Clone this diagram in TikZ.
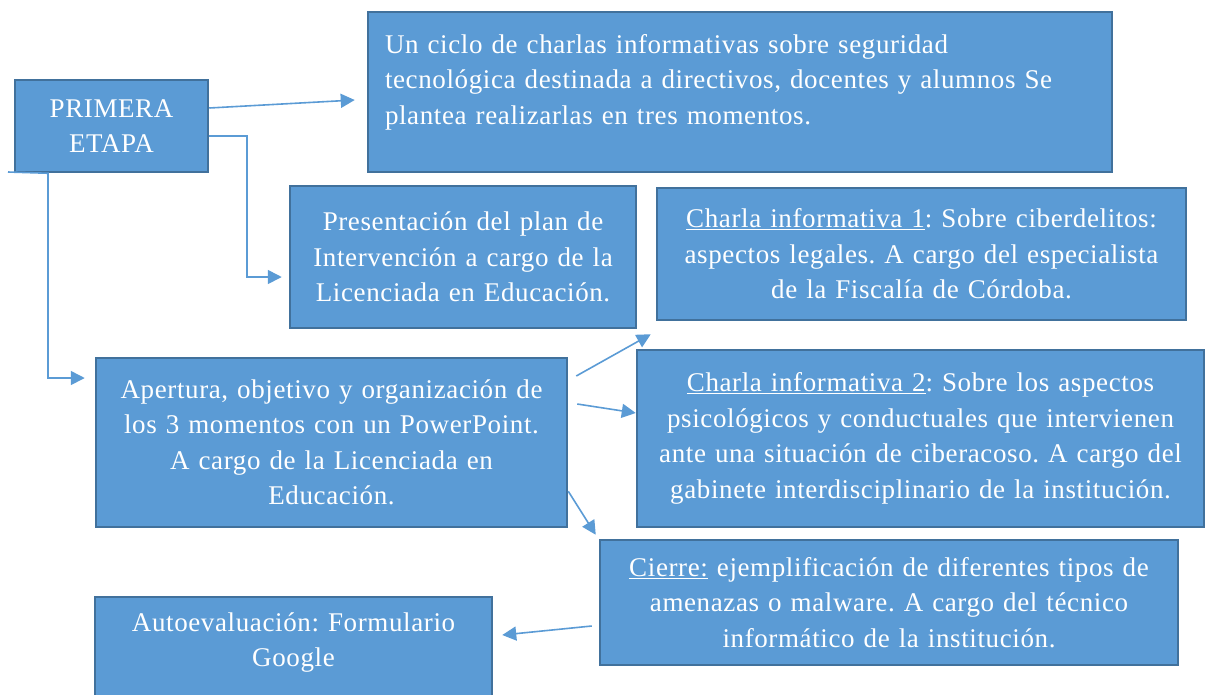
\documentclass[tikz,border=0pt]{standalone}
\usepackage{fontspec}
\setmainfont{Liberation Serif}[LetterSpace=2.3]
\usepackage{tikz}
\usetikzlibrary{arrows.meta, positioning}
\usepackage{xcolor}
\definecolor{cajaazul}{HTML}{5B9BD5}
\definecolor{bordeazul}{HTML}{41719C}
\frenchspacing

\begin{document}
\begin{tikzpicture}[x=1pt,y=-1pt,
    font=\fontsize{27}{35.5}\selectfont]
    \tikzstyle{caja}=[shape=rectangle,draw=bordeazul,line width=2.5pt,fill=cajaazul,
        text=white,align=center,inner sep=0pt]
    \tikzstyle{flecha}=[color=cajaazul,line width=1.6pt,-{Triangle[length=14pt,width=14pt]}]

    \clip (0,0) rectangle (1206,694);

    \node[caja,minimum width=193pt,minimum height=92pt,text width=180pt] (etapa) at (111.5,126)
        {PRIMERA\\ETAPA};
    \node[caja,minimum width=744pt,minimum height=160pt,text width=710pt,align=left] (ciclo) at (740,92)
        {Un ciclo de charlas informativas sobre seguridad\\tecnológica destinada a directivos, docentes y alumnos Se\\plantea realizarlas en tres momentos.\par\vspace{20pt}};
    \node[caja,minimum width=346pt,minimum height=142pt,text width=340pt] (presentacion) at (463,257)
        {Presentación del plan de\\Intervención a cargo de la\\Licenciada en Educación.};
    \node[caja,minimum width=529pt,minimum height=132pt,text width=525pt] (charlauno) at (921.5,254)
        {\underline{Charla informativa 1}: Sobre ciberdelitos:\\aspectos legales. A cargo del especialista\\de la Fiscalía de Córdoba.};
    \node[caja,minimum width=471pt,minimum height=169pt,text width=466pt] (apertura) at (331.5,442.5)
        {Apertura, objetivo y organización de\\los 3 momentos con un PowerPoint.\\A cargo de la Licenciada en\\Educación.};
    \node[caja,minimum width=567pt,minimum height=177pt,text width=562pt] (charlados) at (920.5,438.5)
        {\underline{Charla informativa 2}: Sobre los aspectos\\psicológicos y conductuales que intervienen\\ante una situación de ciberacoso. A cargo del\\gabinete interdisciplinario de la institución.};
    \node[caja,minimum width=578pt,minimum height=125pt,text width=573pt] (cierre) at (889,602.5)
        {\underline{Cierre:} ejemplificación de diferentes tipos de\\amenazas o malware. A cargo del técnico\\informático de la institución.};
    \node[caja,minimum width=397pt,minimum height=103pt,text width=392pt] (autoeval) at (293.5,648.5)
        {Autoevaluación: Formulario\\Google\par\vspace{12pt}};

    \coordinate (stub) at (8,172);

    \path
    ([yshift=18pt]etapa.east) edge[flecha] ([shift={(-12,8)}]ciclo.west)
    ([shift={(8,-66.5)}]apertura.east) edge[flecha] ([shift={(-5,13)}]charlauno.south west)
    ([shift={(9,-38.5)}]apertura.east) edge[flecha] ([shift={(0,-25.5)}]charlados.west)
    ([shift={(0,-37)}]apertura.south east) edge[flecha] ([shift={(-3,-4)}]cierre.north west)
    ([shift={(-7,23.5)}]cierre.west) edge[flecha] ([shift={(9,-13.5)}]autoeval.east)
    ;
    \draw[flecha] ([yshift=-10pt]etapa.east) -- ++(38,0) |- ([shift={(-7,20)}]presentacion.west);
    \draw[flecha] (stub) -- ([xshift=-63.5pt]etapa.south) |- ([shift={(-10,-64.5)}]apertura.west);
\end{tikzpicture}
\end{document}
